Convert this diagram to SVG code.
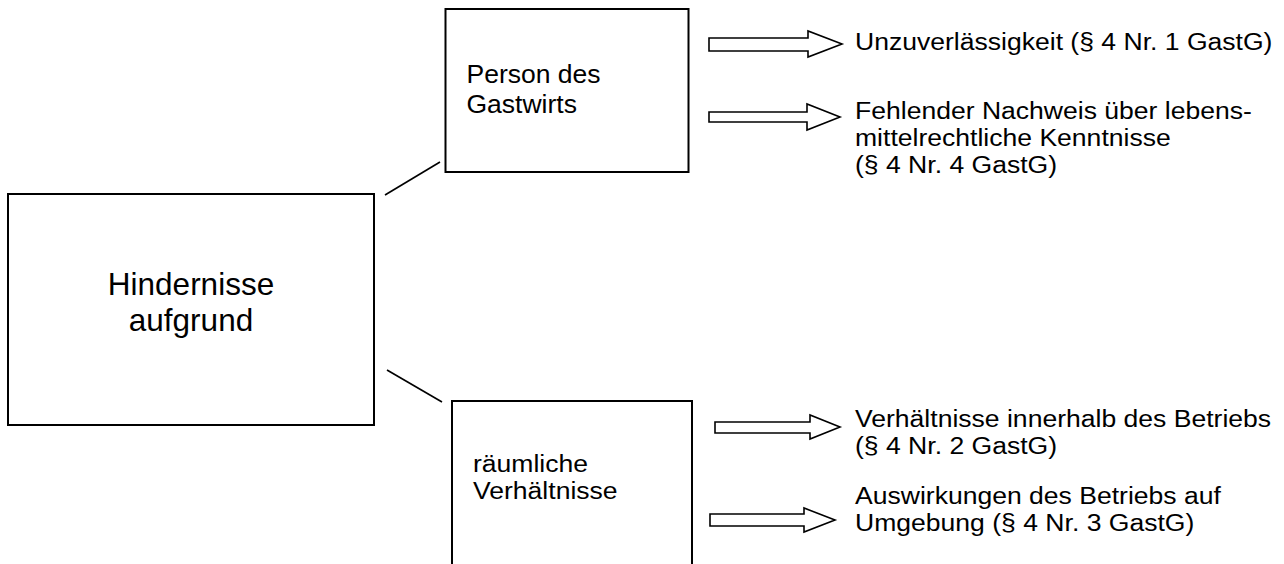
<svg xmlns="http://www.w3.org/2000/svg" width="1284" height="564" viewBox="0 0 1284 564">
  <style>
    .box { fill: #fff; stroke: #000; stroke-width: 2; }
    .link { stroke: #000; stroke-width: 1.6; fill: none; }
    .arrow { fill: #fff; stroke: #000; stroke-width: 1.6; stroke-linejoin: miter; }
    text { font-family: "Liberation Sans", Arial, sans-serif; fill: #000; }
    .t { font-size: 26.5px; }
    .n { font-size: 23.5px; }
    .main { font-size: 31.5px; }
  </style>
  <rect width="1284" height="564" fill="#fff"/>

  <g id="connectors">
    <line class="link" x1="385" y1="195" x2="440" y2="162"/>
    <line class="link" x1="387" y1="370" x2="442" y2="402"/>
  </g>

  <g id="hindernisse">
    <rect class="box" x="8" y="194" width="366" height="231"/>
    <text class="main" x="191" y="295" text-anchor="middle">Hindernisse</text>
    <text class="main" x="191" y="331" text-anchor="middle">aufgrund</text>
  </g>

  <g id="person">
    <rect class="box" x="445.5" y="9" width="243" height="163"/>
    <text class="t" x="466.5" y="83">Person des</text>
    <text class="t" x="466.5" y="113">Gastwirts</text>
  </g>

  <g id="raeumlich">
    <rect class="box" x="452" y="401" width="240" height="175"/>
    <!-- slightly widened lettering, tight leading -->
    <g transform="translate(473 0) scale(1.13 1)">
      <text class="n" x="0" y="472">räumliche</text>
      <text class="n" x="0" y="499">Verhältnisse</text>
    </g>
  </g>

  <g id="unzuverlaessigkeit">
    <polygon class="arrow" points="709,38 808,38 808,31 842,44 808,57 808,51 709,51"/>
    <g transform="translate(855 0) scale(1.13 1)">
      <text class="n" x="0" y="50">Unzuverlässigkeit (§ 4 Nr. 1 GastG)</text>
    </g>
  </g>

  <g id="nachweis">
    <polygon class="arrow" points="709,112 807,112 807,104 840,117 807,130 807,122 709,122"/>
    <g transform="translate(855 0) scale(1.13 1)">
      <text class="n" x="0" y="119">Fehlender Nachweis über lebens-</text>
      <text class="n" x="0" y="146">mittelrechtliche Kenntnisse</text>
      <text class="n" x="0" y="173">(§ 4 Nr. 4 GastG)</text>
    </g>
  </g>

  <g id="innerhalb">
    <polygon class="arrow" points="715,422 810,422 810,415 840,427 810,439 810,433 715,433"/>
    <g transform="translate(855 0) scale(1.13 1)">
      <text class="n" x="0" y="427">Verhältnisse innerhalb des Betriebs</text>
      <text class="n" x="0" y="454">(§ 4 Nr. 2 GastG)</text>
    </g>
  </g>

  <g id="auswirkungen">
    <polygon class="arrow" points="710,514 804,514 804,508 835,520 804,532 804,526 710,526"/>
    <g transform="translate(855 0) scale(1.13 1)">
      <text class="n" x="0" y="504">Auswirkungen des Betriebs auf</text>
      <text class="n" x="0" y="531">Umgebung (§ 4 Nr. 3 GastG)</text>
    </g>
  </g>
</svg>
